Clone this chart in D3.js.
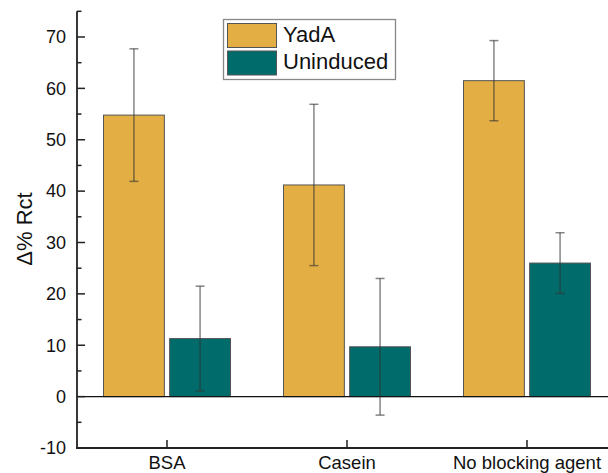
<!DOCTYPE html>
<html><head><meta charset="utf-8">
<script src="https://cdn.jsdelivr.net/npm/d3@7"></script>
<style>body{margin:0;background:#fff}svg{display:block}text{font-family:"Liberation Sans",Arial,sans-serif;fill:#111}</style>
</head><body>
<script>
const categories = ["BSA", "Casein", "No blocking agent"];
const seriesNames = ["YadA", "Uninduced"];
const yadaValues = [54.8, 41.2, 61.5];
const yadaErrors = [12.9, 15.7, 7.8];
const uninducedValues = [11.3, 9.7, 26.0];
const uninducedErrors = [10.2, 13.3, 5.9];
const yTicks = [-10, 0, 10, 20, 30, 40, 50, 60, 70];
const colors = ["#E3AF45", "#006B6B"];

(function () {
const W = 608, H = 473;
const svg = d3.select("body").append("svg").attr("width", W).attr("height", H);

const pl = 77, pr = 617, pb = 448;
const y = d3.scaleLinear().domain([-10, 75]).range([pb, pb - 85 * (411 / 80)]);
const x0 = d3.scaleBand().domain(categories).range([pl, pr]).padding(0);
const groupW = 127;

const data = [];
categories.forEach((c, i) => {
  data.push({cat: c, s: 0, v: yadaValues[i], e: yadaErrors[i]});
  data.push({cat: c, s: 1, v: uninducedValues[i], e: uninducedErrors[i]});
});
function x1For(c) {
  const cx = x0(c) + x0.bandwidth() / 2;
  return d3.scaleBand().domain([0, 1]).range([cx - groupW / 2, cx + groupW / 2]).paddingInner(0.08).paddingOuter(0);
}

// bars
svg.append("g").selectAll("rect").data(data).join("rect")
  .attr("x", d => x1For(d.cat)(d.s))
  .attr("width", d => x1For(d.cat).bandwidth())
  .attr("y", d => y(Math.max(0, d.v)))
  .attr("height", d => Math.abs(y(d.v) - y(0)))
  .attr("fill", d => colors[d.s])
  .attr("stroke", "#555").attr("stroke-width", 1);

// zero line
svg.append("line").attr("x1", pl).attr("x2", W).attr("y1", y(0)).attr("y2", y(0))
  .attr("stroke", "#111").attr("stroke-width", 1.3);

// error bars
const eg = svg.append("g").attr("stroke", "#333").attr("stroke-opacity", 0.6).attr("stroke-width", 1.5);
data.forEach(d => {
  const sc = x1For(d.cat);
  const cx = sc(d.s) + sc.bandwidth() / 2;
  eg.append("line").attr("x1", cx).attr("x2", cx).attr("y1", y(d.v + d.e)).attr("y2", y(d.v - d.e));
  [d.v + d.e, d.v - d.e].forEach(v => eg.append("line").attr("x1", cx - 4.5).attr("x2", cx + 4.5).attr("y1", y(v)).attr("y2", y(v)));
});

// y axis
const ya = svg.append("g").attr("transform", `translate(${pl},0)`)
  .call(d3.axisLeft(y).tickValues(yTicks).tickSize(0).tickPadding(11).tickFormat(d => String(d)));
ya.select(".domain").remove();
ya.selectAll("text").attr("font-size", 18).style("font-family", '"Liberation Sans",Arial,sans-serif').attr("fill", "#111");
svg.append("line").attr("x1", pl).attr("x2", pl).attr("y1", y(75)).attr("y2", pb).attr("stroke", "#222").attr("stroke-width", 1.8);
const minor = d3.range(-5, 80, 10);
svg.append("g").selectAll("line").data(yTicks).join("line")
  .attr("x1", pl).attr("x2", pl + 8).attr("y1", d => y(d)).attr("y2", d => y(d)).attr("stroke", "#222").attr("stroke-width", 1.5);
svg.append("g").selectAll("line").data(minor).join("line")
  .attr("x1", pl).attr("x2", pl + 4.5).attr("y1", d => y(d)).attr("y2", d => y(d)).attr("stroke", "#222").attr("stroke-width", 1.5);

// x axis
const xa = svg.append("g").attr("transform", `translate(0,${pb})`)
  .call(d3.axisBottom(x0).tickSize(0).tickPadding(8));
xa.select(".domain").remove();
xa.selectAll("text").attr("font-size", 18.5).style("font-family", '"Liberation Sans",Arial,sans-serif').attr("fill", "#111");
svg.append("line").attr("x1", pl - 1).attr("x2", W).attr("y1", pb).attr("y2", pb).attr("stroke", "#222").attr("stroke-width", 1.8);
svg.append("g").selectAll("line").data(categories).join("line")
  .attr("x1", d => x0(d) + x0.bandwidth() / 2).attr("x2", d => x0(d) + x0.bandwidth() / 2)
  .attr("y1", pb).attr("y2", pb - 8).attr("stroke", "#222").attr("stroke-width", 1.5);

// y label
svg.append("text").attr("transform", `translate(32,229) rotate(-90)`)
  .attr("text-anchor", "middle").attr("font-size", 22).text("Δ% Rct");

// legend
const lg = svg.append("g");
lg.append("rect").attr("x", 223.5).attr("y", 19.5).attr("width", 172).attr("height", 60)
  .attr("fill", "#fff").attr("stroke", "#888").attr("stroke-width", 1.3);
seriesNames.forEach((s, i) => {
  lg.append("rect").attr("x", 227.5).attr("y", 23.5 + i * 27.5).attr("width", 49).attr("height", 24)
    .attr("fill", colors[i]).attr("stroke", "#555");
  lg.append("text").attr("x", 283).attr("y", 42 + i * 27).attr("font-size", 22).text(s);
});
})();
</script>
</body></html>
